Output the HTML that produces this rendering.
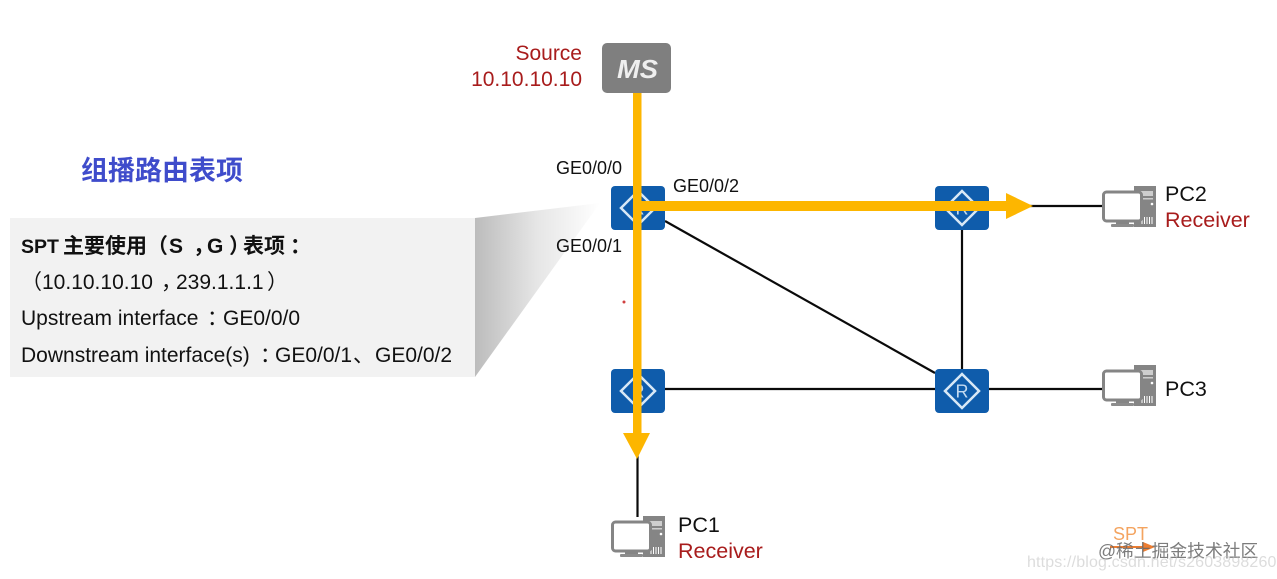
<!DOCTYPE html>
<html>
<head>
<meta charset="utf-8">
<style>
html,body{margin:0;padding:0;background:#fff;width:1277px;height:579px;overflow:hidden}
svg{display:block}
text{font-family:"Liberation Sans","Noto Sans CJK SC",sans-serif}
</style>
</head>
<body>
<svg width="1277" height="579" viewBox="0 0 1277 579" xmlns="http://www.w3.org/2000/svg">
<defs>
<linearGradient id="side3" gradientUnits="userSpaceOnUse" x1="475" y1="0" x2="600" y2="0">
<stop offset="0" stop-color="#bcbcbc"/>
<stop offset="0.5" stop-color="#e6e6e6"/>
<stop offset="1" stop-color="#ffffff"/>
</linearGradient>
<g id="router">
<rect x="0" y="0" width="54" height="44" rx="4" fill="#0f5cab"/>
<path d="M27 5 L44 22 L27 39 L10 22 Z" fill="none" stroke="#d8e8f6" stroke-width="2.500"/>
<text x="27" y="28.500" font-size="18" fill="#c4daf0" text-anchor="middle">R</text>
</g>
<g id="pc">
<path d="M32 0 H54 V41 H32 Z" fill="#858585"/>
<rect x="36" y="5" width="15" height="5" fill="#fff" opacity=".6"/>
<rect x="36" y="12" width="15" height="1.500" fill="#fff" opacity=".6"/>
<circle cx="50" cy="18" r="1.300" fill="#fff"/>
<path d="M40 38V31M42.500 38V31M45 38V31M47.500 38V31M50 38V31" stroke="#fff" stroke-width="1"/>
<rect x="1.500" y="6" width="38" height="29" rx="3" fill="#fff" stroke="#858585" stroke-width="3"/>
<rect x="14" y="35" width="13" height="3" fill="#858585"/>
<rect x="9" y="38" width="23" height="3" rx="1" fill="#8c8c8c"/>
</g>
</defs>

<!-- callout -->
<rect x="10" y="218" width="465" height="159" fill="#f2f2f2"/>
<polygon points="475,218 600,203 475,377" fill="url(#side3)"/>

<text x="81" y="180" font-size="27" font-weight="bold" fill="#3f4ccb">组播路由表项</text>

<text y="253" font-size="21" font-weight="bold" fill="#111"><tspan x="21" font-size="19.500">SPT</tspan><tspan x="63">主要使用</tspan><tspan x="147">（</tspan><tspan x="169">S</tspan><tspan x="193">，</tspan><tspan x="207">G</tspan><tspan x="229">）</tspan><tspan x="243">表项</tspan><tspan x="290">：</tspan></text>
<text y="289" font-size="21" fill="#111"><tspan x="21">（</tspan><tspan x="42">10.10.10.10</tspan><tspan x="161">，</tspan><tspan x="176">239.1.1.1</tspan><tspan x="267">）</tspan></text>
<text y="325" font-size="21" fill="#111"><tspan x="21">Upstream interface</tspan><tspan x="207">：</tspan><tspan x="223">GE0/0/0</tspan></text>
<text y="362" font-size="21" fill="#111"><tspan x="21">Downstream interface(s)</tspan><tspan x="260">：</tspan><tspan x="275">GE0/0/1</tspan><tspan x="353">、</tspan><tspan x="375">GE0/0/2</tspan></text>

<!-- links -->
<g stroke="#0a0a0a" stroke-width="2.200" fill="none">
<line x1="665" y1="221" x2="935" y2="373"/>
<line x1="665" y1="389" x2="935" y2="389"/>
<line x1="962" y1="230" x2="962" y2="369"/>
<line x1="989" y1="389" x2="1102" y2="389"/>
<line x1="1030" y1="206" x2="1102" y2="206"/>
<line x1="637.500" y1="455" x2="637.500" y2="517"/>
</g>

<!-- routers -->
<use href="#router" x="611" y="186"/>
<use href="#router" x="935" y="186"/>
<use href="#router" x="611" y="369"/>
<use href="#router" x="935" y="369"/>

<!-- PCs -->
<use href="#pc" x="1102" y="186"/>
<use href="#pc" x="1102" y="365"/>
<use href="#pc" x="611" y="516"/>

<!-- MS -->
<rect x="602" y="43" width="69" height="50" rx="5" fill="#7f7f7f"/>
<text x="617" y="78" font-size="26" font-weight="bold" font-style="italic" fill="#efefef" textLength="41" lengthAdjust="spacingAndGlyphs">MS</text>

<!-- SPT arrows -->
<rect x="633" y="93" width="8.500" height="342" fill="#fdb600"/>
<polygon points="623,433 650,433 637,459" fill="#fdb600"/>
<rect x="637" y="201" width="371" height="10" fill="#fdb600"/>
<polygon points="1006,193 1033,206 1006,219" fill="#fdb600"/>

<!-- labels -->
<text x="582" y="60" font-size="21" fill="#a81c1c" text-anchor="end">Source</text>
<text x="582" y="86" font-size="21" fill="#a81c1c" text-anchor="end">10.10.10.10</text>
<text x="556" y="174" font-size="18" fill="#111">GE0/0/0</text>
<text x="673" y="192" font-size="18" fill="#111">GE0/0/2</text>
<text x="556" y="252" font-size="18" fill="#111">GE0/0/1</text>
<text x="1165" y="201" font-size="21.500" fill="#111">PC2</text>
<text x="1165" y="227" font-size="21.500" fill="#a81c1c">Receiver</text>
<text x="1165" y="396" font-size="21.500" fill="#111">PC3</text>
<text x="678" y="532" font-size="21.500" fill="#111">PC1</text>
<text x="678" y="558" font-size="21.500" fill="#a81c1c">Receiver</text>

<circle cx="624" cy="302" r="1.500" fill="#d04040"/>

<!-- legend and watermark -->
<text x="1113" y="540" font-size="18" fill="#f4a460">SPT</text>
<line x1="1110" y1="547" x2="1146" y2="547" stroke="#ed7d31" stroke-width="2"/>
<polygon points="1143,542 1155,547 1143,552" fill="#ed7d31"/>
<text x="1098" y="557" font-size="17.800" fill="#666" opacity=".85">@稀土掘金技术社区</text>
<text x="1027" y="567" font-size="16" fill="#bbb" opacity=".5" letter-spacing=".15">https://blog.csdn.net/s2603898260</text>
</svg>
</body>
</html>
